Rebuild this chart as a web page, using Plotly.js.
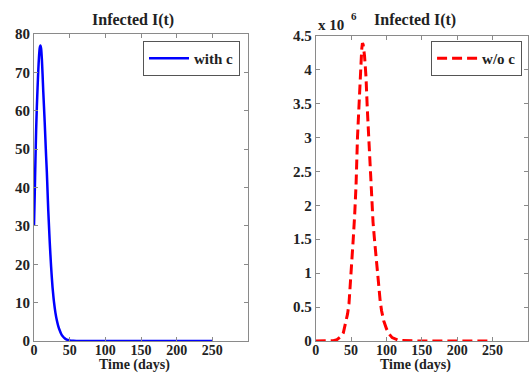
<!DOCTYPE html>
<html>
<head>
<meta charset="utf-8">
<script src="https://cdn.plot.ly/plotly-3.0.1.min.js"></script>
<style>html,body{margin:0;padding:0;background:#fff;}#chart{width:529px;height:374px;}</style>
</head>
<body>
<div id="chart"></div>
<script>
// Infected I(t) with control c
const daysWithC = [0,1,2,3,4,5,6,7,8,9,10,11,12,13,14,15,16,17,18,19,20,21,22,23,24,25,26,27,28,30,32,34,36,38,40,43,46,50,55,60,70,80,100,150,200,250];
const infectedWithC = [30,38,47,55,61,66,70.5,74,76.3,77,76.2,73.5,69.5,65,61,57,52.5,48,44,39,34,30,26,22.5,19.3,16.5,14,12,10.2,7.4,5.4,3.9,2.8,1.9,1.3,0.7,0.35,0.15,0.05,0.02,0,0,0,0,0,0];

// Infected I(t) without control (values in units of 10^6)
const daysWithoutC = [0,10,20,25,30,33,36,39,42,45,47,49,51,53,55,57,59,61,63,65,66,67,69,71,73,75,77,79,81,83,85,87,89,91,93,96,100,104,108,112,116,120,130,150,200,250];
const infectedWithoutC = [0,0,0.001,0.005,0.02,0.04,0.07,0.12,0.25,0.4,0.55,0.82,1.15,1.5,1.85,2.3,3.0,3.5,4.0,4.3,4.39,4.37,4.2,3.9,3.4,3.0,2.5,2.0,1.75,1.5,1.25,1.05,0.85,0.6,0.45,0.3,0.18,0.1,0.05,0.03,0.015,0.008,0.002,0,0,0];

const xTicks = [0,50,100,150,200,250];
const yTicksLeft = [0,10,20,30,40,50,60,70,80];
const yTicksRight = [0,0.5,1,1.5,2,2.5,3,3.5,4,4.5];
const yTickTextRight = ['0','0.5','1','1.5','2','2.5','3','3.5','4','4.5'];

const FAM = 'Liberation Serif, Times New Roman, Times, serif';
const tickFont = {family: FAM, size: 15, color: '#222', weight: 'bold'};
const xTickFont = {family: FAM, size: 14, color: '#222', weight: 'bold'};
const axisCommon = {
  showgrid: false, zeroline: false, showline: true, linecolor: '#8a8a8a', linewidth: 1,
  mirror: 'ticks', ticks: 'inside', ticklen: 4, tickcolor: '#8a8a8a', tickfont: tickFont
};

const traces = [
  {x: daysWithC, y: infectedWithC, type: 'scatter', mode: 'lines', name: 'with c',
   line: {color: '#0000ff', width: 2.5, shape: 'spline', smoothing: 0.6}, xaxis: 'x', yaxis: 'y', legend: 'legend'},
  {x: daysWithoutC, y: infectedWithoutC, type: 'scatter', mode: 'lines', name: 'w/o c',
   line: {color: '#ff0000', width: 3, dash: '10px,5px'}, xaxis: 'x2', yaxis: 'y2', legend: 'legend2'}
];

const legendCommon = {
  bgcolor: '#fff', bordercolor: '#555', borderwidth: 1,
  font: {family: FAM, size: 15, color: '#222', weight: 'bold'},
  xanchor: 'right', yanchor: 'top', tracegroupgap: 0, itemwidth: 40
};

const annFont = {family: FAM, size: 16, color: '#222', weight: 'bold'};
const xTitleFont = {family: FAM, size: 14, color: '#222', weight: 'bold'};
const layout = {
  width: 529, height: 374,
  margin: {l: 34, r: 1, t: 34, b: 33},
  paper_bgcolor: '#fff', plot_bgcolor: '#fff',
  showlegend: true,
  xaxis: Object.assign({}, axisCommon, {domain: [0, 0.4332], range: [0, 300], tickvals: xTicks, anchor: 'y', tickfont: xTickFont, ticklabelstandoff: -4}),
  yaxis: Object.assign({}, axisCommon, {domain: [0, 1], range: [0, 80], tickvals: yTicksLeft, anchor: 'x'}),
  xaxis2: Object.assign({}, axisCommon, {domain: [0.5703, 1], range: [0, 300], tickvals: xTicks, anchor: 'y2', tickfont: xTickFont, ticklabelstandoff: -4}),
  yaxis2: Object.assign({}, axisCommon, {domain: [0, 0.9945], range: [0, 4.5], tickvals: yTicksRight, ticktext: yTickTextRight, anchor: 'x2'}),
  legend: Object.assign({}, legendCommon, {x: 0.417, y: 0.977}),
  legend2: Object.assign({}, legendCommon, {x: 0.988, y: 0.977}),
  annotations: [
    {text: 'Infected I(t)', xref: 'paper', yref: 'paper', x: 0.2004, y: 1.0456, xanchor: 'center', yanchor: 'middle', showarrow: false, font: annFont},
    {text: 'Infected I(t)', xref: 'paper', yref: 'paper', x: 0.771, y: 1.0456, xanchor: 'center', yanchor: 'middle', showarrow: false, font: annFont},
    {text: 'Time (days)', xref: 'paper', yref: 'paper', x: 0.2034, y: -0.1075, xanchor: 'center', yanchor: 'bottom', borderpad: 0, showarrow: false, font: xTitleFont},
    {text: 'Time (days)', xref: 'paper', yref: 'paper', x: 0.773, y: -0.1075, xanchor: 'center', yanchor: 'bottom', borderpad: 0, showarrow: false, font: xTitleFont},
    {text: 'x 10', xref: 'paper', yref: 'paper', x: 0.571, y: 1.029, xanchor: 'left', yanchor: 'middle', showarrow: false, font: {family: FAM, size: 15, color: '#222', weight: 'bold'}},
    {text: '6', xref: 'paper', yref: 'paper', x: 0.637, y: 1.058, xanchor: 'left', yanchor: 'middle', showarrow: false, font: {family: FAM, size: 11, color: '#222', weight: 'bold'}}
  ]
};

Plotly.newPlot('chart', traces, layout, {staticPlot: true, displayModeBar: false});
</script>
</body>
</html>
